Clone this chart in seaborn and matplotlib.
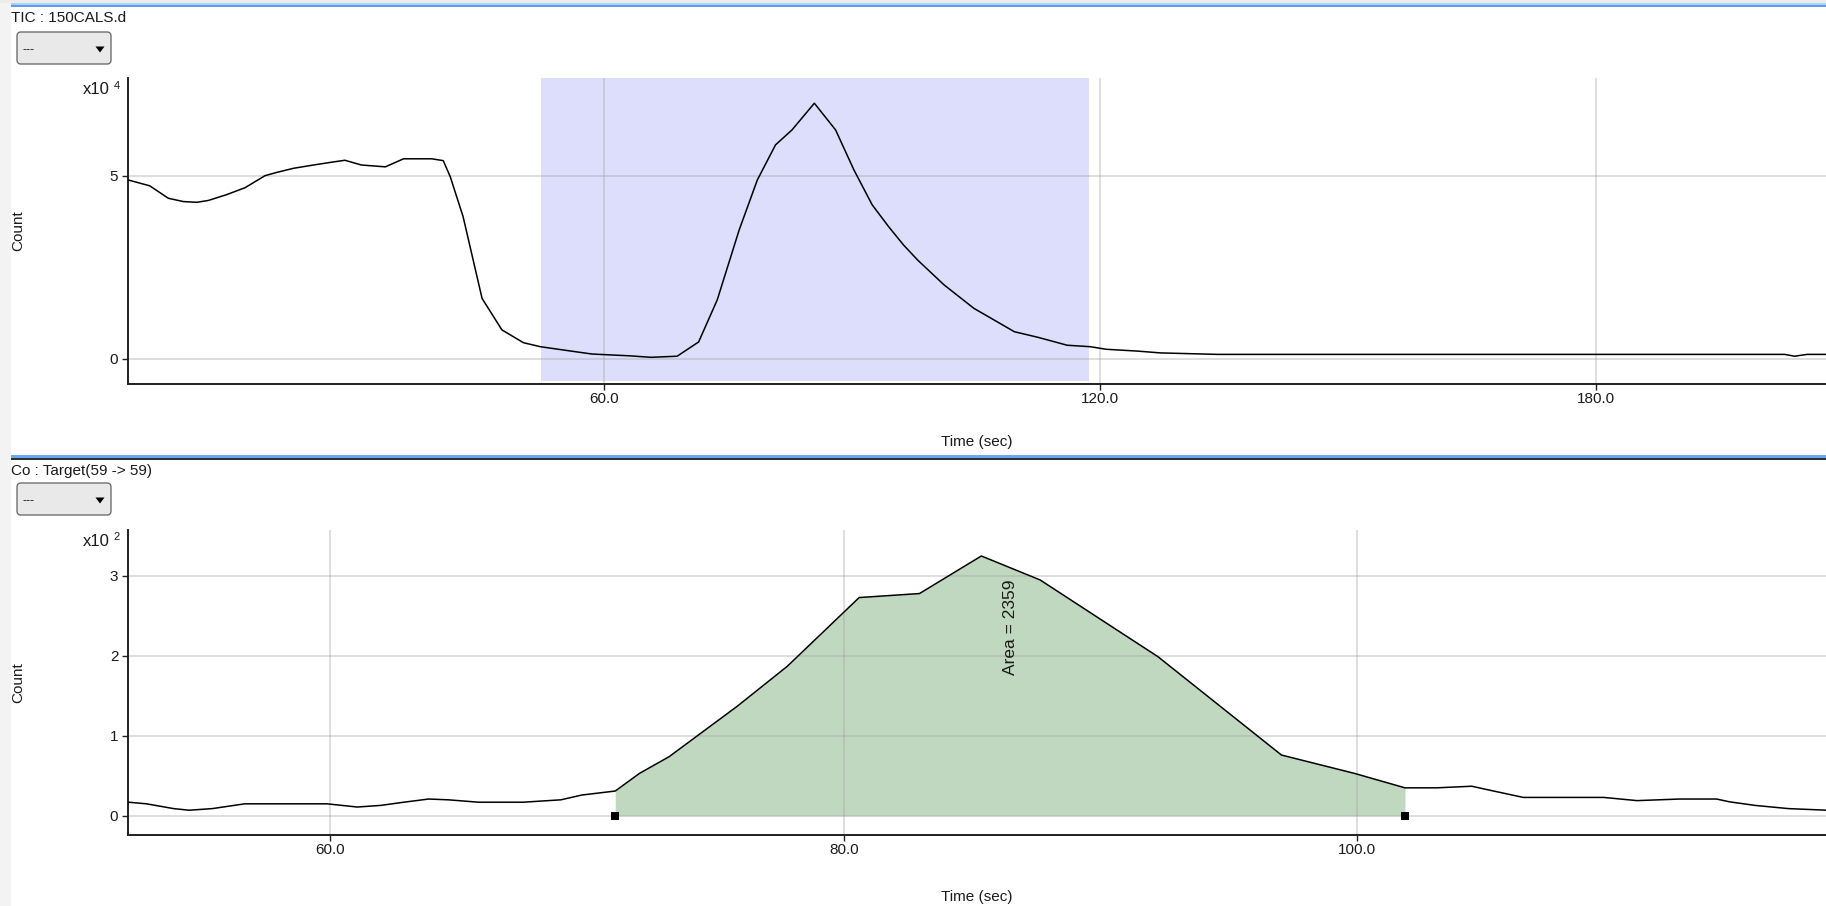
import numpy as np
import matplotlib
matplotlib.use("Agg")
import matplotlib.pyplot as plt
from matplotlib.patches import FancyBboxPatch, Polygon, Rectangle
from matplotlib.transforms import IdentityTransform
import seaborn as sns

W, H = 1826, 906

# ----------------------------------------------------------------------
# DATA
# ----------------------------------------------------------------------
# TIC trace, count in units of 1e4
tic_time = [2.4, 5.0, 7.24, 9.06, 10.68, 12.08, 14.3, 16.53, 18.95, 20.4,
            22.38, 24.8, 26.8, 28.6, 30.6, 33.5, 35.7, 39.1, 40.5, 41.35,
            42.9, 45.2, 47.6, 50.2, 52.25, 56.6, 58.5, 63.1, 65.65, 68.8,
            71.4, 73.65, 76.3, 78.5, 80.7, 82.7, 85.4, 87.97, 90.2, 92.4,
            94.4, 96.2, 97.9, 101.1, 104.7, 109.6, 112.4, 116.0, 118.8, 120.7,
            124.5, 127.3, 134.2, 202.8, 204.0, 205.5, 208.0]
tic_count = [4.89, 4.73, 4.39, 4.30, 4.28, 4.33, 4.49, 4.68, 5.01, 5.10,
             5.21, 5.30, 5.37, 5.43, 5.30, 5.25, 5.47, 5.47, 5.42, 4.98,
             3.89, 1.65, 0.79, 0.44, 0.33, 0.19, 0.13, 0.08, 0.04, 0.07,
             0.46, 1.61, 3.52, 4.89, 5.85, 6.26, 6.99, 6.26, 5.16, 4.21,
             3.61, 3.11, 2.70, 2.02, 1.38, 0.74, 0.59, 0.37, 0.33, 0.26,
             0.21, 0.16, 0.12, 0.12, 0.07, 0.12, 0.12]

# Target ion trace (59 -> 59), count in units of 1e2
ion_time = [52.15, 52.84, 53.9, 54.5, 55.4, 56.67, 59.87, 61.05, 61.96, 62.86,
            63.83, 64.6, 65.78, 67.5, 68.98, 69.8, 71.1, 72.04, 73.2, 75.85,
            77.8, 80.6, 82.95, 85.36, 87.65, 92.24, 97.05, 99.9, 101.86, 103.1,
            104.46, 105.17, 106.47, 109.6, 110.9, 112.57, 114.0, 114.5, 115.5, 116.8,
            118.3]
ion_count = [0.17, 0.15, 0.09, 0.07, 0.09, 0.15, 0.15, 0.11, 0.13, 0.17,
             0.21, 0.20, 0.17, 0.17, 0.20, 0.26, 0.31, 0.53, 0.74, 1.37,
             1.87, 2.73, 2.78, 3.25, 2.95, 1.99, 0.76, 0.53, 0.35, 0.35,
             0.37, 0.32, 0.23, 0.23, 0.19, 0.21, 0.21, 0.175, 0.13, 0.09,
             0.07]

tic_xticks = [60, 120, 180]
tic_yticks = [0, 5]
ion_xticks = [60, 80, 100]
ion_yticks = [0, 1, 2, 3]

tic_title = "TIC : 150CALS.d"
ion_title = "Co : Target(59 -> 59)"
span_start, span_end = 52.33, 118.65
peak_start, peak_end = 71.1, 101.86
peak_area = 2359

# ----------------------------------------------------------------------
# STYLE
# ----------------------------------------------------------------------
sns.set_style("white")
plt.rcParams["font.family"] = ["Liberation Sans", "DejaVu Sans"]
TEXT = "#1a1a1a"

fig = plt.figure(figsize=(W / 100, H / 100), dpi=100)
fig.patch.set_facecolor("white")
ident = IdentityTransform()


def px_rect(x, y, w, h, color):
    # rectangle given in screen pixels, y measured from the top
    fig.add_artist(Rectangle((x, H - y - h), w, h, fc=color, ec="none",
                             transform=ident, zorder=0))


def dropdown(top):
    box = FancyBboxPatch((17, H - top - 32), 94, 32,
                         boxstyle="round,pad=0,rounding_size=4",
                         fc="#e9e9e9", ec="#707070", lw=1.0, transform=ident)
    fig.add_artist(box)
    fig.text(22 / W, 1 - (top + 18) / H, "---", fontsize=9, color=TEXT,
             va="center", ha="left")
    tri = Polygon([(95.5, H - top - 14.5), (104.5, H - top - 14.5),
                   (100, H - top - 20.5)], closed=True, fc="black",
                  ec="none", transform=ident)
    fig.add_artist(tri)


def style_axes(ax, xticks, yticks, exp, y_exp):
    ax.set_xticks(xticks)
    ax.set_xticklabels([f"{t:.1f}" for t in xticks])
    ax.set_yticks(yticks)
    ax.set_yticklabels([str(t) for t in yticks])
    ax.grid(True, color="#a0a0a0", alpha=0.35, lw=1.4)
    ax.set_axisbelow(True)
    ax.spines[["top", "right"]].set_visible(False)
    for s in ["left", "bottom"]:
        ax.spines[s].set_color("#202020")
        ax.spines[s].set_linewidth(1.4)
    ax.tick_params(axis="both", which="major", direction="out", length=4.5,
                   width=1.0, color="#202020", labelsize=11, labelcolor=TEXT)
    ax.tick_params(axis="x", pad=1.5)
    ax.tick_params(axis="y", pad=2.5, left=True)
    ax.tick_params(axis="x", bottom=True)
    ax.set_xlabel("Time (sec)", fontsize=11, color=TEXT)
    ax.set_ylabel("Count", fontsize=11, color=TEXT)
    ax.yaxis.set_label_coords(-0.0603, 0.5)
    fig.text(83 / W, 1 - y_exp / H, "x10", fontsize=12, color=TEXT,
             va="center", ha="left")
    fig.text(113.5 / W, 1 - (y_exp - 4) / H, exp, fontsize=8, color=TEXT,
             va="center", ha="left")


# window chrome
px_rect(0, 0, 11, H, "#f3f3f3")
px_rect(0, 0, W, 3.3, "#ececec")
px_rect(11, 3.3, W, 1.8, "#b3d1f8")
px_rect(11, 5.1, W, 2.3, "#5b9df0")
px_rect(11, 455, W, 2.6, "#6aa8f0")
px_rect(11, 458.2, W, 2.0, "#303030")

fig.text(11 / W, 1 - 17.5 / H, tic_title, fontsize=11, color=TEXT,
         va="center", ha="left")
fig.text(11 / W, 1 - 471 / H, ion_title, fontsize=11, color=TEXT,
         va="center", ha="left")
dropdown(32)
dropdown(483)

# ----------------------------------------------------------------------
# TOP PANEL: TIC
# ----------------------------------------------------------------------
ax1 = fig.add_axes([128 / W, 1 - 384 / H, (W - 128) / W, (384 - 78) / H])
ax1.axvspan(span_start, span_end, ymin=0.01, ymax=1.0, color="#dcdefc",
            lw=0, zorder=0.2)
sns.lineplot(x=tic_time, y=tic_count, ax=ax1, color="black", lw=1.1,
             estimator=None, zorder=3)
ax1.set_xlim(2.36, 207.8)
ax1.set_ylim(-0.69, 7.68)
style_axes(ax1, tic_xticks, tic_yticks, "4", 90)
ax1.xaxis.set_label_coords(0.5, -0.167)

# ----------------------------------------------------------------------
# BOTTOM PANEL: target ion with integrated peak
# ----------------------------------------------------------------------
ax2 = fig.add_axes([128 / W, 1 - 835 / H, (W - 128) / W, (835 - 530) / H])
t = np.array(ion_time)
c = np.array(ion_count)
mask = (t >= peak_start) & (t <= peak_end)
ax2.fill_between(t[mask], 0, c[mask], color="#c0d8c0", lw=0, zorder=0.2)
sns.lineplot(x=ion_time, y=ion_count, ax=ax2, color="black", lw=1.1,
             estimator=None, zorder=3)
sns.scatterplot(x=[peak_start, peak_end], y=[0, 0], ax=ax2, marker="s",
                s=26, color="black", linewidth=0, zorder=4)
ax2.text(86.5, 2.36, f"Area = {peak_area}", rotation=90, ha="center",
         va="center", fontsize=12.5, color=TEXT)
ax2.set_xlim(52.12, 118.26)
ax2.set_ylim(-0.24, 3.575)
style_axes(ax2, ion_xticks, ion_yticks, "2", 541)
ax2.xaxis.set_label_coords(0.5, -0.18)

fig.savefig("out.png", dpi=100)
